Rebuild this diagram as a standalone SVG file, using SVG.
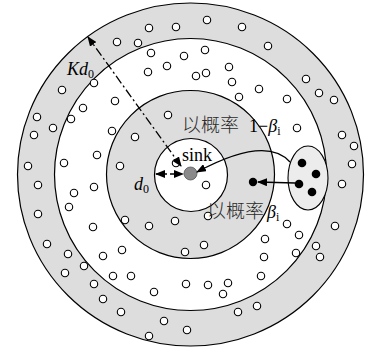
<svg xmlns="http://www.w3.org/2000/svg" width="370" height="351" viewBox="0 0 370 351">
<style>
.ring{stroke:#000;stroke-width:1.2}
.gray{fill:#dddddd}
.white{fill:#ffffff}
.n{fill:#fff;stroke:#000;stroke-width:1.1}
.b{fill:#000}
.ser{font-family:"Liberation Serif","Times New Roman",serif;fill:#000}
.it{font-style:italic}
.cjk{font-family:"Noto Sans CJK SC","Noto Sans CJK JP",sans-serif;fill:#2a2a2a;font-weight:300}
.ln{fill:none;stroke:#000;stroke-width:1.3}
</style>
<defs>
<marker id="ah" viewBox="0 0 10 8" refX="9" refY="4" markerWidth="10" markerHeight="8" markerUnits="userSpaceOnUse" orient="auto-start-reverse">
<path d="M0,0 L10,4 L0,8 z" fill="#000"/>
</marker>
</defs>
<rect width="370" height="351" fill="#fff"/>
<g id="rings">
<ellipse class="ring gray" cx="190.5" cy="174.5" rx="173" ry="171.5"/>
<circle class="ring white" cx="190.5" cy="174.5" r="136"/>
<circle class="ring gray" cx="190.5" cy="174.5" r="84"/>
<circle class="ring white" cx="191" cy="175" r="36.5"/>
</g>
<g id="nodes">
<circle class="n" cx="149" cy="28" r="3.7"/>
<circle class="n" cx="176" cy="27" r="3.7"/>
<circle class="n" cx="207" cy="20" r="3.7"/>
<circle class="n" cx="242" cy="27" r="3.7"/>
<circle class="n" cx="117" cy="42" r="3.7"/>
<circle class="n" cx="138" cy="43" r="3.7"/>
<circle class="n" cx="268" cy="46" r="3.7"/>
<circle class="n" cx="306" cy="79" r="3.7"/>
<circle class="n" cx="319" cy="93" r="3.7"/>
<circle class="n" cx="334" cy="100" r="3.7"/>
<circle class="n" cx="342" cy="135" r="3.7"/>
<circle class="n" cx="354" cy="146" r="3.7"/>
<circle class="n" cx="352" cy="164" r="3.7"/>
<circle class="n" cx="342" cy="184" r="3.7"/>
<circle class="n" cx="335" cy="226" r="3.7"/>
<circle class="n" cx="316" cy="246" r="3.7"/>
<circle class="n" cx="320" cy="257" r="3.7"/>
<circle class="n" cx="62" cy="90" r="3.7"/>
<circle class="n" cx="37" cy="117" r="3.7"/>
<circle class="n" cx="53" cy="128" r="3.7"/>
<circle class="n" cx="34" cy="135" r="3.7"/>
<circle class="n" cx="28" cy="166" r="3.7"/>
<circle class="n" cx="38" cy="185" r="3.7"/>
<circle class="n" cx="38" cy="214" r="3.7"/>
<circle class="n" cx="47" cy="244" r="3.7"/>
<circle class="n" cx="68" cy="254" r="3.7"/>
<circle class="n" cx="84" cy="266" r="3.7"/>
<circle class="n" cx="65" cy="273" r="3.7"/>
<circle class="n" cx="94" cy="284" r="3.7"/>
<circle class="n" cx="103" cy="299" r="3.7"/>
<circle class="n" cx="121" cy="312" r="3.7"/>
<circle class="n" cx="149" cy="336" r="3.7"/>
<circle class="n" cx="164" cy="321" r="3.7"/>
<circle class="n" cx="187" cy="330" r="3.7"/>
<circle class="n" cx="238" cy="312" r="3.7"/>
<circle class="n" cx="257" cy="306" r="3.7"/>
<circle class="n" cx="151" cy="53" r="3.7"/>
<circle class="n" cx="184" cy="56" r="3.7"/>
<circle class="n" cx="205" cy="50" r="3.7"/>
<circle class="n" cx="148" cy="72" r="3.7"/>
<circle class="n" cx="167" cy="66" r="3.7"/>
<circle class="n" cx="196" cy="76" r="3.7"/>
<circle class="n" cx="206" cy="73" r="3.7"/>
<circle class="n" cx="229" cy="67" r="3.7"/>
<circle class="n" cx="232" cy="82" r="3.7"/>
<circle class="n" cx="239" cy="97" r="3.7"/>
<circle class="n" cx="259" cy="89" r="3.7"/>
<circle class="n" cx="287" cy="99" r="3.7"/>
<circle class="n" cx="297" cy="128" r="3.7"/>
<circle class="n" cx="94" cy="83" r="3.7"/>
<circle class="n" cx="115" cy="101" r="3.7"/>
<circle class="n" cx="83" cy="108" r="3.7"/>
<circle class="n" cx="71" cy="119" r="3.7"/>
<circle class="n" cx="112" cy="131" r="3.7"/>
<circle class="n" cx="97" cy="155" r="3.7"/>
<circle class="n" cx="64" cy="163" r="3.7"/>
<circle class="n" cx="74" cy="193" r="3.7"/>
<circle class="n" cx="94" cy="187" r="3.7"/>
<circle class="n" cx="69" cy="207" r="3.7"/>
<circle class="n" cx="93" cy="227" r="3.7"/>
<circle class="n" cx="122" cy="250" r="3.7"/>
<circle class="n" cx="103" cy="256" r="3.7"/>
<circle class="n" cx="113" cy="276" r="3.7"/>
<circle class="n" cx="131" cy="276" r="3.7"/>
<circle class="n" cx="154" cy="292" r="3.7"/>
<circle class="n" cx="186" cy="284" r="3.7"/>
<circle class="n" cx="208" cy="285" r="3.7"/>
<circle class="n" cx="228" cy="283" r="3.7"/>
<circle class="n" cx="223" cy="294" r="3.7"/>
<circle class="n" cx="261" cy="276" r="3.7"/>
<circle class="n" cx="264" cy="257" r="3.7"/>
<circle class="n" cx="265" cy="239" r="3.7"/>
<circle class="n" cx="287" cy="224" r="3.7"/>
<circle class="n" cx="299" cy="235" r="3.7"/>
<circle class="n" cx="296" cy="253" r="3.7"/>
<circle class="n" cx="168" cy="115" r="3.7"/>
<circle class="n" cx="135" cy="137" r="3.7"/>
<circle class="n" cx="120" cy="166" r="3.7"/>
<circle class="n" cx="125" cy="220" r="3.7"/>
<circle class="n" cx="149" cy="226" r="3.7"/>
<circle class="n" cx="175" cy="221" r="3.7"/>
<circle class="n" cx="185" cy="252" r="3.7"/>
<circle class="n" cx="204" cy="245" r="3.7"/>
<circle class="n" cx="208" cy="216" r="3.7"/>
<circle class="n" cx="176" cy="163" r="3.7"/>
<circle class="n" cx="206" cy="185" r="3.7"/>
</g>
<g id="sink">
<circle cx="190.5" cy="173.5" r="6.5" fill="#8a8a8a" stroke="#555" stroke-width="0.8"/>
<text class="ser" x="182" y="161" font-size="18">sink</text>
</g>
<g id="cluster">
<ellipse cx="308" cy="178" rx="20" ry="32" fill="#ececec" stroke="#000" stroke-width="1.1"/>
<circle class="b" cx="302" cy="163" r="4.3"/>
<circle class="b" cx="316" cy="174" r="4.3"/>
<circle class="b" cx="299" cy="184" r="4.3"/>
<circle class="b" cx="312" cy="192" r="4.3"/>
</g>
<g id="relay">
<circle class="b" cx="253" cy="182" r="4.2"/>
</g>
<g id="connectors">
<line class="ln" x1="181" y1="166" x2="88" y2="37" stroke-dasharray="9,3,2,3" marker-start="url(#ah)" marker-end="url(#ah)"/>
<line class="ln" x1="156" y1="174" x2="183" y2="174" stroke-dasharray="4,3" marker-start="url(#ah)" marker-end="url(#ah)"/>
<line class="ln" x1="295" y1="183" x2="258" y2="182" marker-end="url(#ah)"/>
<path class="ln" d="M290,162 Q266,135 197,172" marker-end="url(#ah)"/>
</g>
<g id="labels">
<text class="ser it" x="67" y="75" font-size="18">Kd<tspan font-size="12" font-style="normal" dy="3">0</tspan></text>
<text class="ser it" x="134" y="190" font-size="18">d<tspan font-size="12" font-style="normal" dy="3">0</tspan></text>
<text class="cjk" x="182" y="132" font-size="19">以概率</text>
<text class="ser" x="249" y="132" font-size="18">1−<tspan font-style="italic">β</tspan><tspan font-size="12" dy="3">i</tspan></text>
<text class="cjk" x="207" y="218" font-size="19">以概率</text>
<text class="ser" x="267" y="218" font-size="18"><tspan font-style="italic">β</tspan><tspan font-size="12" dy="3">i</tspan></text>
</g>
</svg>
